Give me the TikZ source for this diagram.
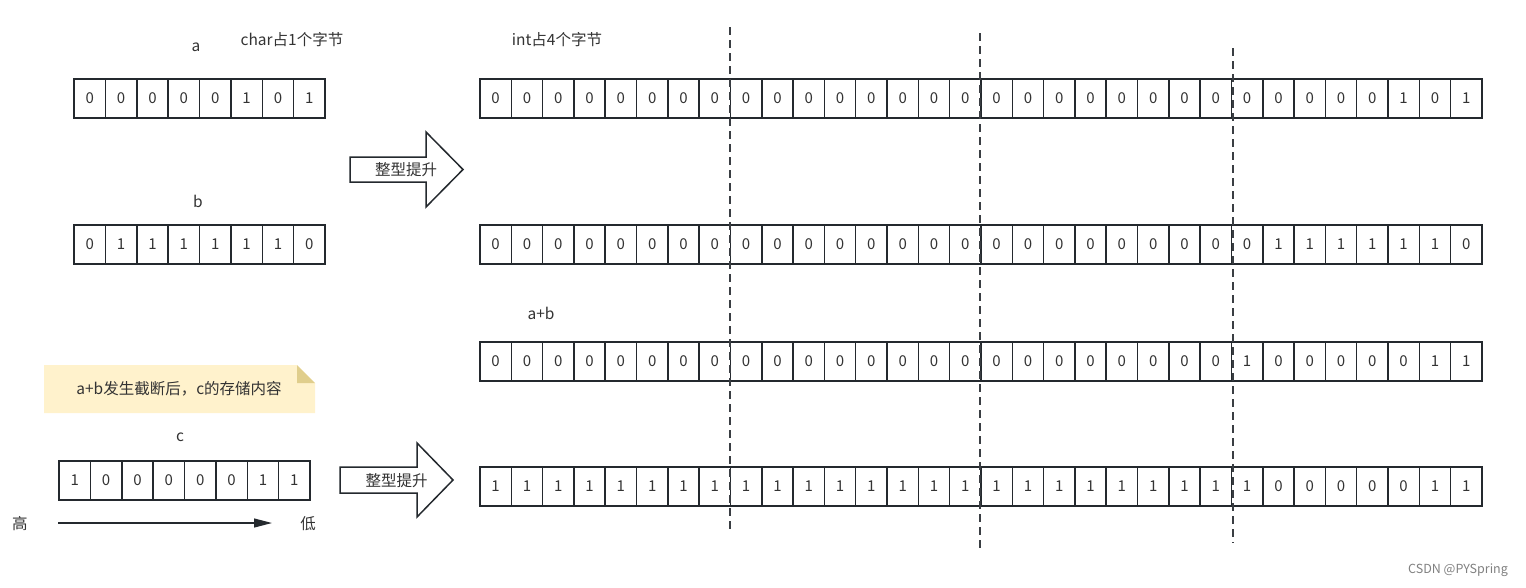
\documentclass[tikz,border=0pt]{standalone}
\usepackage{fontspec}
\setmainfont{Noto Sans CJK SC}
\usetikzlibrary{arrows.meta}
\definecolor{ink}{RGB}{36,41,46}
\definecolor{txt}{RGB}{51,51,51}
\definecolor{notefill}{RGB}{255,242,204}
\definecolor{notefold}{RGB}{224,206,140}
\tikzset{
  cell/.style={draw=ink, line width=1.5pt, minimum height=39pt, inner sep=0pt, text=txt, font=\fontsize{15}{17}\selectfont, anchor=center},
  lbl/.style={text=txt, font=\fontsize{15.5}{18}\selectfont, inner sep=0pt},
  guide/.style={draw=ink!90, line width=1.6pt, dash pattern=on 8pt off 5pt},
  blockarrow/.style={draw=ink, line width=1.5pt, fill=white, line join=miter},
}
\begin{document}
\begin{tikzpicture}[x=1pt,y=-1pt]
\useasboundingbox (0,0) rectangle (1526,587);
% dashed byte separators
\coordinate (d1t) at (730,27); \coordinate (d1b) at (730,533);
\coordinate (d2t) at (980,33); \coordinate (d2b) at (980,548);
\coordinate (d3t) at (1233,48); \coordinate (d3b) at (1233,543);
% left rows
\foreach \b [count=\i] in {0,0,0,0,0,1,0,1}
  \node[cell, minimum width=31.375pt] (la\i) at ({74+31.375*(\i-0.5)},98.5) {\b};
\foreach \b [count=\i] in {0,1,1,1,1,1,1,0}
  \node[cell, minimum width=31.375pt] (lb\i) at ({74+31.375*(\i-0.5)},244.5) {\b};
\foreach \b [count=\i] in {1,0,0,0,0,0,1,1}
  \node[cell, minimum width=31.375pt] (lc\i) at ({59+31.375*(\i-0.5)},480.5) {\b};
% right rows
\foreach \b [count=\i] in {0,0,0,0,0,0,0,0,0,0,0,0,0,0,0,0,0,0,0,0,0,0,0,0,0,0,0,0,0,1,0,1}
  \node[cell, minimum width=31.31pt] (ra\i) at ({480+31.31*(\i-0.5)},98.5) {\b};
\foreach \b [count=\i] in {0,0,0,0,0,0,0,0,0,0,0,0,0,0,0,0,0,0,0,0,0,0,0,0,0,1,1,1,1,1,1,0}
  \node[cell, minimum width=31.31pt] (rb\i) at ({480+31.31*(\i-0.5)},244.5) {\b};
\foreach \b [count=\i] in {0,0,0,0,0,0,0,0,0,0,0,0,0,0,0,0,0,0,0,0,0,0,0,0,1,0,0,0,0,0,1,1}
  \node[cell, minimum width=31.31pt] (rs\i) at ({480+31.31*(\i-0.5)},361.5) {\b};
\foreach \b [count=\i] in {1,1,1,1,1,1,1,1,1,1,1,1,1,1,1,1,1,1,1,1,1,1,1,1,1,0,0,0,0,0,1,1}
  \node[cell, minimum width=31.31pt] (rc\i) at ({480+31.31*(\i-0.5)},486.5) {\b};
\draw[guide] (d1t) -- (d1b);
\draw[guide] (d2t) -- (d2b);
\draw[guide] (d3t) -- (d3b);
% labels
\node[lbl] (la) at (196,47) {a};
\node[lbl] (charlbl) at (292,40) {char占1个字节};
\node[lbl] (intlbl) at (557,40) {int占4个字节};
\node[lbl] (lbb) at (198,201) {b};
\node[lbl] (lsum) at (541,313) {a+b};
\node[lbl] (lcc) at (180,437) {c};
% block arrows
\draw[blockarrow] (350,157) -- (426,157) -- (426,132) -- (463,169.5) -- (426,207) -- (426,182) -- (350,182) -- cycle;
\node[lbl] (up1) at (406,170) {整型提升};
\draw[blockarrow] (340,467) -- (417,467) -- (417,443) -- (453,480) -- (417,517) -- (417,493) -- (340,493) -- cycle;
\node[lbl] (up2) at (396.5,481) {整型提升};
% note
\fill[notefill] (44,365) -- (297,365) -- (315,383) -- (315,413) -- (44,413) -- cycle;
\fill[notefold] (297,365) -- (315,383) -- (297,383) -- cycle;
\node[lbl] (note) at (179,389) {a+b发生截断后，c的存储内容};
% high-low arrow
\node[lbl] (hi) at (20,524) {高};
\node[lbl] (lo) at (308,524) {低};
\coordinate (hs) at (58,523);
\coordinate (he) at (272,523);
\draw[ink, line width=1.2pt, -{Triangle[length=18pt,width=9pt]}] (hs) -- (he);
% watermark
\node[text=black!50, font=\fontsize{12.5}{14}\selectfont, inner sep=0pt] (wm) at (1458,570) {CSDN @PYSpring};
\end{tikzpicture}
\end{document}
